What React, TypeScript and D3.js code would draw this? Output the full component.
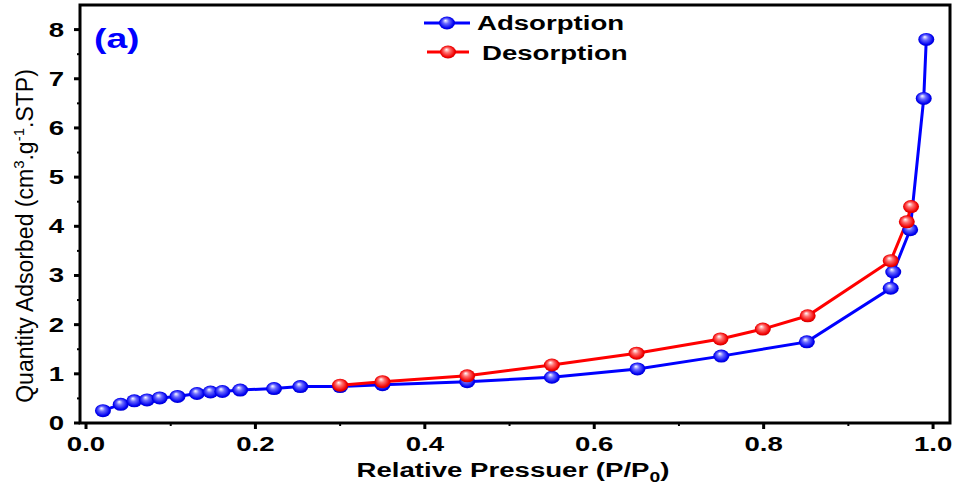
import * as d3 from 'd3';

// adsorption branch (P/P0, quantity)
const adsP = [0.02, 0.041, 0.057, 0.072, 0.087, 0.108, 0.131, 0.147, 0.161, 0.182, 0.222, 0.253, 0.3, 0.35, 0.45, 0.55, 0.651, 0.75, 0.851, 0.95, 0.953, 0.973, 0.989, 0.992];
const adsQ = [0.25, 0.38, 0.45, 0.47, 0.51, 0.54, 0.6, 0.63, 0.64, 0.67, 0.7, 0.74, 0.74, 0.78, 0.84, 0.93, 1.1, 1.36, 1.65, 2.74, 3.07, 3.93, 6.6, 7.8];

// desorption branch
const desP = [0.3, 0.35, 0.45, 0.55, 0.65, 0.749, 0.799, 0.852, 0.95, 0.969, 0.974];
const desQ = [0.77, 0.84, 0.96, 1.18, 1.42, 1.71, 1.91, 2.18, 3.3, 4.09, 4.4];

const xTicks = [0, 0.2, 0.4, 0.6, 0.8, 1.0];
const xMinor = [0.1, 0.3, 0.5, 0.7, 0.9];
const yTicks = [0, 1, 2, 3, 4, 5, 6, 7, 8];
const yMinor = [0.5, 1.5, 2.5, 3.5, 4.5, 5.5, 6.5, 7.5];

const W = 957;
const H = 491;
const L = 80;
const R = 950;
const T = 5;
const B = 423;
const SX = 1.38; // the source is stretched sideways

export default function App() {
  const x = d3.scaleLinear().domain([-0.0071, 1.02]).range([L, R]);
  const y = d3.scaleLinear().domain([0, 8.5]).range([B, T]);

  const ads = adsP.map((p, i) => [p, adsQ[i]] as [number, number]);
  const des = desP.map((p, i) => [p, desQ[i]] as [number, number]);
  const line = d3.line<[number, number]>().x((d) => x(d[0])).y((d) => y(d[1]));

  const font = 'Arial, "Liberation Sans", sans-serif';

  const marker = (cx: number, cy: number, grad: string, key: string) => (
    <ellipse key={key} cx={cx} cy={cy} rx={8} ry={6.5} fill={`url(#${grad})`} />
  );

  return (
    <svg width={W} height={H} style={{ position: 'absolute', left: 0, top: 0 }} fontFamily={font}>
      <defs>
        <radialGradient id="gb" cx="0.5" cy="0.5" r="0.55" fx="0.4" fy="0.3">
          <stop offset="0" stopColor="#ffffff" />
          <stop offset="0.35" stopColor="#6a6aff" />
          <stop offset="0.8" stopColor="#0000f0" />
          <stop offset="1" stopColor="#0000c0" />
        </radialGradient>
        <radialGradient id="gr" cx="0.5" cy="0.5" r="0.55" fx="0.4" fy="0.3">
          <stop offset="0" stopColor="#ffffff" />
          <stop offset="0.35" stopColor="#ff7070" />
          <stop offset="0.8" stopColor="#f00000" />
          <stop offset="1" stopColor="#c00000" />
        </radialGradient>
      </defs>
      <rect x={0} y={0} width={W} height={H} fill="#fff" />

      {/* ticks */}
      {xTicks.map((t) => (
        <g key={'xt' + t}>
          <line x1={x(t)} x2={x(t)} y1={B} y2={B + 6} stroke="#000" strokeWidth={3} />
          <text transform={`translate(${x(t)},451) scale(${SX},1)`} textAnchor="middle" fontSize={20} fontWeight="bold">{t.toFixed(1)}</text>
        </g>
      ))}
      {xMinor.map((t) => (
        <line key={'xm' + t} x1={x(t)} x2={x(t)} y1={B} y2={B + 3} stroke="#000" strokeWidth={2} />
      ))}
      {yTicks.map((t) => (
        <g key={'yt' + t}>
          <line x1={L} x2={L - 6} y1={y(t)} y2={y(t)} stroke="#000" strokeWidth={3} />
          <text transform={`translate(64,${y(t) + 7}) scale(${SX},1)`} textAnchor="end" fontSize={20} fontWeight="bold">{t}</text>
        </g>
      ))}
      {yMinor.map((t) => (
        <line key={'ym' + t} x1={L} x2={L - 3} y1={y(t)} y2={y(t)} stroke="#000" strokeWidth={2} />
      ))}

      {/* series */}
      <path d={line(ads) ?? ''} fill="none" stroke="#0000ff" strokeWidth={3} />
      <path d={line(des) ?? ''} fill="none" stroke="#ff0000" strokeWidth={3} />
      {ads.map((d, i) => marker(x(d[0]), y(d[1]), 'gb', 'a' + i))}
      {des.map((d, i) => marker(x(d[0]), y(d[1]), 'gr', 'd' + i))}

      {/* frame */}
      <rect x={L} y={T} width={R - L} height={B - T} fill="none" stroke="#000" strokeWidth={3} />

      {/* legend */}
      <line x1={424} x2={470} y1={23} y2={23} stroke="#0000ff" strokeWidth={3} />
      {marker(447, 23, 'gb', 'lg1')}
      <text transform={`translate(477,30) scale(${SX},1)`} fontSize={20} fontWeight="bold">Adsorption</text>
      <line x1={427} x2={469} y1={52} y2={52} stroke="#ff0000" strokeWidth={3} />
      {marker(448, 52, 'gr', 'lg2')}
      <text transform={`translate(482,60) scale(${SX},1)`} fontSize={20} fontWeight="bold">Desorption</text>

      <text transform={`translate(94,48) scale(${SX},1)`} fontSize={27} fontWeight="bold" fill="#0000ff">(a)</text>

      {/* axis titles */}
      <text transform={`translate(513,477) scale(${SX},1)`} textAnchor="middle" fontSize={20} fontWeight="bold">
        Relative Pressuer (P/P<tspan dy={5} fontSize={14}>0</tspan><tspan dy={-5}>)</tspan>
      </text>
      <text transform="translate(33,236) rotate(-90)" textAnchor="middle" fontSize={23} fontWeight={500}>
        Quantity Adsorbed (cm<tspan dy={-9} fontSize={15}>3</tspan>
        <tspan dy={9}>.g</tspan>
        <tspan dy={-9} fontSize={15}>-1</tspan>
        <tspan dy={9}>.STP)</tspan>
      </text>
    </svg>
  );
}
